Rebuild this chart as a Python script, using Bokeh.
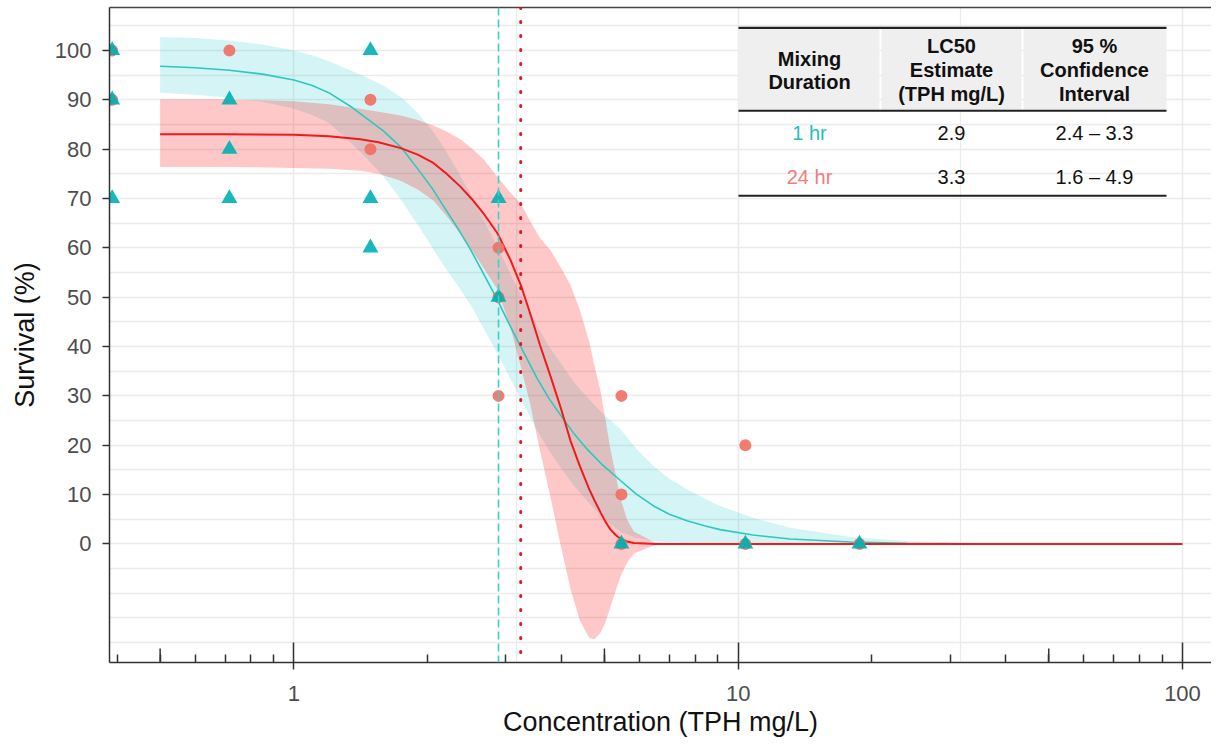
import math
from bokeh.plotting import figure
from bokeh.models import (Range1d, FixedTicker, LogAxis, Span, Label,
                          BoxAnnotation, BasicTickFormatter)
from bokeh.embed import file_html
from bokeh.resources import INLINE

# ---------------- data ----------------
# observed survival, 1 hr mixing (triangles)
conc_1hr = [0.39, 0.39, 0.39, 0.716, 0.716, 0.716, 1.487, 1.487, 1.487,
            2.888, 2.888, 5.46, 10.38, 18.75]
surv_1hr = [100, 90, 70, 90, 80, 70, 100, 70, 60, 70, 50, 0, 0, 0]

# observed survival, 24 hr mixing (circles)
conc_24hr = [0.39, 0.39, 0.716, 1.487, 1.487, 2.888, 2.888, 2.888,
             5.46, 5.46, 5.46, 10.38, 10.38, 18.75]
surv_24hr = [100, 90, 100, 90, 80, 60, 50, 30, 30, 10, 0, 20, 0, 0]

# fitted curve and confidence band, 1 hr
fit1_x = [0.5, 0.6, 0.716, 0.85, 1.0, 1.1, 1.2, 1.34, 1.45, 1.59, 1.75, 1.9,
          2.05, 2.17, 2.33, 2.5, 2.68, 2.87, 3.05, 3.24, 3.53, 3.75, 3.99,
          4.25, 4.57, 4.95, 5.44, 5.9, 6.45, 7.0, 7.67, 8.4, 9.1, 10.8, 13.1,
          17.9, 24.0, 33.3]
fit1_y = [96.8, 96.5, 96.0, 95.2, 94.0, 92.9, 91.4, 88.7, 86.4, 83.7, 80.2,
          76.0, 72.0, 68.5, 64.2, 59.6, 54.5, 49.5, 44.6, 40.0, 33.5, 29.5,
          26.0, 22.6, 19.2, 16.0, 12.8, 10.1, 7.7, 6.0, 4.7, 3.7, 2.9, 1.8,
          1.0, 0.4, 0.15, 0.05]
fit1_lo = [91.4, 91.0, 90.4, 89.6, 88.2, 86.9, 85.3, 81.4, 78.3, 74.5, 69.5,
           64.7, 60.0, 56.5, 52.5, 48.4, 43.5, 38.7, 34.0, 29.4, 22.9, 19.0,
           15.4, 12.0, 8.7, 5.3, 2.4, 1.2, 0.6, 0.35, 0.2, 0.15, 0.1, 0.05,
           0.0, 0.0, 0.0, 0.0]
fit1_hi = [102.7, 102.5, 102.0, 101.2, 100.0, 99.0, 97.8, 96.0, 94.6, 92.9,
           90.4, 87.3, 83.8, 80.5, 75.8, 70.8, 65.5, 60.3, 55.3, 50.6, 44.1,
           40.0, 36.6, 33.0, 29.7, 26.5, 23.2, 19.3, 15.8, 13.2, 11.1, 9.2,
           7.7, 5.3, 3.3, 1.4, 0.6, 0.2]

# fitted curve and confidence band, 24 hr
fit24_x = [0.5, 0.7, 1.0, 1.2, 1.41, 1.55, 1.74, 1.9, 2.06, 2.2, 2.37, 2.52,
           2.67, 2.87, 3.07, 3.24, 3.4, 3.58, 3.78, 3.99, 4.19, 4.4, 4.62,
           4.75, 4.9, 5.02, 5.15, 5.3, 5.44, 5.62, 5.82, 6.5, 8.0, 12.0, 20.0,
           40.0, 100.0]
fit24_y = [83.0, 83.0, 82.9, 82.6, 82.0, 81.4, 80.2, 78.9, 77.2, 75.1, 72.4,
           69.8, 67.0, 63.0, 57.6, 52.5, 46.8, 40.3, 34.0, 27.5, 21.0, 15.8,
           11.1, 8.8, 6.4, 4.6, 3.0, 1.8, 1.0, 0.5, 0.2, 0.0, 0.0, 0.0, 0.0,
           0.0, 0.0]
fit24_hi = [90.1, 90.1, 89.7, 89.1, 88.2, 87.6, 86.8, 85.9, 84.8, 83.6, 82.0,
            80.1, 78.0, 74.4, 71.2, 69.0, 65.5, 62.0, 59.5, 56.0, 52.5, 47.5,
            41.0, 36.0, 31.0, 25.5, 19.5, 14.0, 9.1, 5.0, 2.5, 0.3, 0.0, 0.0,
            0.0, 0.0, 0.0]
fit24_lo = [76.4, 76.4, 76.2, 76.0, 75.6, 75.0, 73.6, 71.8, 69.6, 66.6, 62.8,
            59.4, 56.0, 51.6, 44.0, 36.0, 28.5, 19.0, 9.5, -0.5, -9.0, -15.5,
            -19.0, -19.3, -18.0, -16.0, -13.0, -9.5, -6.5, -3.8, -2.0, -0.2,
            0.0, 0.0, 0.0, 0.0, 0.0]

# LC50 reference lines
lc50_1hr_line = 2.888
lc50_24hr_line = 3.24

# table contents
table_header = [["Mixing", "Duration"],
                ["LC50", "Estimate", "(TPH mg/L)"],
                ["95 %", "Confidence", "Interval"]]
table_duration = ["1 hr", "24 hr"]
table_lc50 = ["2.9", "3.3"]
table_ci = ["2.4 \u2013 3.3", "1.6 \u2013 4.9"]

# axis ticks
x_major = [1, 10, 100]
x_mid = [0.5, 5, 50]
x_minor = [0.4, 0.5, 0.6, 0.7, 0.8, 0.9, 2, 3, 4, 5, 6, 7, 8, 9,
           20, 30, 40, 50, 60, 70, 80, 90]
x_grid_minor = [3.162, 31.62]
y_major = [0, 10, 20, 30, 40, 50, 60, 70, 80, 90, 100]
y_grid_minor = [-20, -15, -10, -5, 5, 15, 25, 35, 45, 55, 65, 75, 85, 95, 105]

# ---------------- layout ----------------
FRAME_LEFT, FRAME_TOP = 109.0, 7.0      # pixels in the figure
PX_DEC, PX_UNIT = 444.3, 4.95
FIG_W, FIG_H = 1211, 739
BORDER_BOTTOM = 75
FRAME_W = FIG_W - FRAME_LEFT
FRAME_H = FIG_H - FRAME_TOP - BORDER_BOTTOM
X_START = 0.3846
X_END = 10 ** (math.log10(X_START) + FRAME_W / PX_DEC)
Y_END = 108.7
Y_START = Y_END - FRAME_H / PX_UNIT

def xp(px):
    return 10 ** (math.log10(X_START) + (px - FRAME_LEFT) / PX_DEC)

def yp(py):
    return Y_END - (py - FRAME_TOP) / PX_UNIT

FONT = "Liberation Sans"
TEAL = "#00B0B3"
SALMON = "#F26D63"
AX = "#333333"

p = figure(width=FIG_W, height=FIG_H, x_axis_type="log",
           x_range=Range1d(X_START, X_END), y_range=Range1d(Y_START, Y_END),
           output_backend="svg", toolbar_location=None,
           min_border_left=int(FRAME_LEFT), min_border_right=0,
           min_border_top=int(FRAME_TOP), min_border_bottom=BORDER_BOTTOM)
p.outline_line_color = None
p.background_fill_color = "white"
p.border_fill_color = "white"

# grid
p.xgrid.ticker = FixedTicker(ticks=x_major, minor_ticks=x_grid_minor)
p.xgrid.grid_line_color = "#EBEBEB"
p.xgrid.grid_line_width = 1.5
p.xgrid.minor_grid_line_color = "#EBEBEB"
p.xgrid.minor_grid_line_width = 1.2
p.ygrid.ticker = FixedTicker(ticks=y_major, minor_ticks=y_grid_minor)
p.ygrid.grid_line_color = "#EBEBEB"
p.ygrid.grid_line_width = 1.5
p.ygrid.minor_grid_line_color = "#EBEBEB"
p.ygrid.minor_grid_line_width = 1.5

# x axis
xa = p.xaxis[0]
xa.ticker = FixedTicker(ticks=x_major, minor_ticks=x_minor)
xa.formatter = BasicTickFormatter()
xa.axis_line_color = AX
xa.axis_line_width = 1.5
xa.major_tick_line_color = AX
xa.major_tick_line_width = 1.5
xa.major_tick_in = 20
xa.major_tick_out = 7
xa.minor_tick_line_color = AX
xa.minor_tick_line_width = 1.5
xa.minor_tick_in = 8
xa.minor_tick_out = 0
xa.major_label_text_font = FONT
xa.major_label_text_font_size = "22px"
xa.major_label_text_color = "#4D4D4D"
xa.major_label_standoff = 16
xa.axis_label = "Concentration (TPH mg/L)"
xa.axis_label_text_font = FONT
xa.axis_label_text_font_size = "27px"
xa.axis_label_text_font_style = "normal"
xa.axis_label_text_color = "#111111"
xa.axis_label_standoff = 3

# y axis
ya = p.yaxis[0]
ya.ticker = FixedTicker(ticks=y_major)
ya.axis_line_color = AX
ya.axis_line_width = 1.5
ya.major_tick_line_color = AX
ya.major_tick_line_width = 1.5
ya.major_tick_in = 0
ya.major_tick_out = 7
ya.minor_tick_line_color = None
ya.major_label_text_font = FONT
ya.major_label_text_font_size = "22px"
ya.major_label_text_color = "#4D4D4D"
ya.major_label_standoff = 11
ya.axis_label = "Survival (%)"
ya.axis_label_text_font = FONT
ya.axis_label_text_font_size = "27px"
ya.axis_label_text_font_style = "normal"
ya.axis_label_text_color = "#111111"
ya.axis_label_standoff = 12

# top border line
top = LogAxis(ticker=FixedTicker(ticks=[]), axis_line_color="#444444",
              axis_line_width=1.5, major_tick_out=0, major_tick_in=0,
              minor_tick_out=0, minor_tick_in=0, major_label_standoff=0)
p.add_layout(top, "above")

# ribbons
p.varea(x=fit1_x, y1=fit1_lo, y2=fit1_hi, fill_color="#00BFC4", fill_alpha=0.17)
p.varea(x=fit24_x, y1=fit24_lo, y2=fit24_hi, fill_color="#FF1010", fill_alpha=0.23)

# LC50 lines
p.add_layout(Span(location=lc50_1hr_line, dimension="height",
                  line_color="#3CCFC6", line_width=1.6, line_dash="8 4"))
p.add_layout(Span(location=lc50_24hr_line, dimension="height",
                  line_color="#E3161E", line_width=3, line_dash="1 13",
                  line_cap="round"))

# fitted curves
p.line(fit1_x, fit1_y, line_color="#2CC8BE", line_width=1.6)
p.line(fit24_x, fit24_y, line_color="#F01A1A", line_width=2)

# points
p.scatter(conc_24hr, surv_24hr, marker="circle", size=12,
          fill_color=SALMON, fill_alpha=0.9, line_color=None)
p.scatter(conc_1hr, surv_1hr, marker="triangle", size=16,
          fill_color=TEAL, fill_alpha=0.9, line_color=None)

# mid-length log ticks (0.5, 5, 50)
p.scatter(x_mid, [Y_START] * len(x_mid), marker="dash", angle=math.pi / 2,
          size=28, line_color=AX, line_width=1.5)

# ---------------- table ----------------
col_edges = [(738, 879), (881, 1021), (1023, 1166)]
col_centers = [809, 951, 1094]
for (l, r) in col_edges:
    p.add_layout(BoxAnnotation(left=xp(l), right=xp(r), top=yp(28), bottom=yp(110),
                               fill_color="#EFEFEF", fill_alpha=1, line_color=None))
for (t, b) in [(26.3, 28.5), (109.6, 111.6), (194.8, 196.8)]:
    p.add_layout(BoxAnnotation(left=xp(738), right=xp(1166), top=yp(t), bottom=yp(b),
                               fill_color="#222222", fill_alpha=1, line_color=None))

header_rows = {2: [59, 82], 3: [46, 70, 94]}
for cx, lines in zip(col_centers, table_header):
    for txt, ty in zip(lines, header_rows[len(lines)]):
        p.add_layout(Label(x=xp(cx), y=yp(ty), text=txt, text_font=FONT,
                           text_font_size="20px", text_font_style="bold",
                           text_color="#111111", text_align="center",
                           text_baseline="middle"))

row_y = [133, 177]
row_colors = ["#27BDBD", "#F07C7C"]
for i in range(len(table_duration)):
    cells = [table_duration[i], table_lc50[i], table_ci[i]]
    colors = [row_colors[i], "#111111", "#111111"]
    for cx, txt, c in zip(col_centers, cells, colors):
        p.add_layout(Label(x=xp(cx), y=yp(row_y[i]), text=txt, text_font=FONT,
                           text_font_size="20px", text_color=c,
                           text_align="center", text_baseline="middle"))

open("out.html", "w").write(file_html(p, INLINE))
